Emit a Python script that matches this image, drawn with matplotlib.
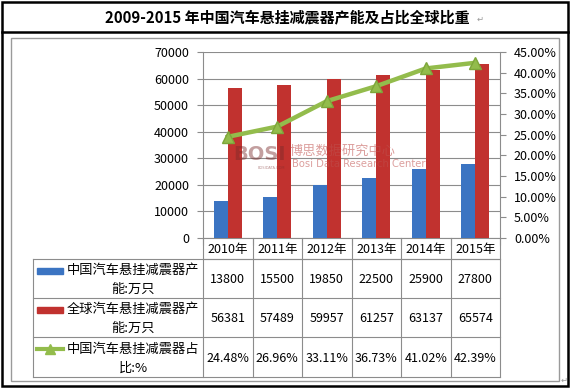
import matplotlib
matplotlib.use("Agg")
import matplotlib.pyplot as plt
from matplotlib.patches import Rectangle

plt.rcParams["font.family"] = ["Noto Sans CJK SC", "DejaVu Sans"]

TITLE = "2009-2015 年中国汽车悬挂减震器产能及占比全球比重"
YEARS = ["2010年", "2011年", "2012年", "2013年", "2014年", "2015年"]
CHINA = [13800, 15500, 19850, 22500, 25900, 27800]
GLOBAL = [56381, 57489, 59957, 61257, 63137, 65574]
SHARE = [24.48, 26.96, 33.11, 36.73, 41.02, 42.39]
ROW_LABELS = [("中国汽车悬挂减震器产", "能:万只"),
              ("全球汽车悬挂减震器产", "能:万只"),
              ("中国汽车悬挂减震器占", "比:%")]

BLUE = "#3B74C2"
RED = "#C1322F"
GREEN = "#93BC4C"
GRAY = "#8C8C8C"

W, H = 571, 389
fig = plt.figure(figsize=(W / 100, H / 100), dpi=100)


def box(x0, y0, x1, y1):
    # pixel box (top-left origin) -> figure fraction rect
    return [x0 / W, 1 - y1 / H, (x1 - x0) / W, (y1 - y0) / H]


# plot area
PX0, PX1, PY0, PY1 = 203, 500, 52, 238
ax = fig.add_axes(box(PX0, PY0, PX1, PY1))
x = list(range(len(YEARS)))
bw = 0.28
ax.bar([i - bw / 2 for i in x], CHINA, bw, color=BLUE, zorder=3)
ax.bar([i + bw / 2 for i in x], GLOBAL, bw, color=RED, zorder=3)
ax.set_xlim(-0.5, len(YEARS) - 0.5)
ax.set_ylim(0, 70000)
ax.set_yticks(range(0, 70001, 10000))
ax.set_xticks([i - 0.5 for i in range(len(YEARS) + 1)])
ax.set_xticklabels([])
ax.grid(axis="y", color=GRAY, linewidth=0.8, zorder=0)
for s in ["top", "right"]:
    ax.spines[s].set_visible(False)
for s in ["left", "bottom"]:
    ax.spines[s].set_color(GRAY)
ax.tick_params(axis="y", colors=GRAY, labelcolor="black", labelsize=9, length=4, pad=6)
ax.tick_params(axis="x", colors=GRAY, length=5, direction="out")

ax2 = ax.twinx()
ax2.plot(x, [v / 100 for v in SHARE], color=GREEN, linewidth=3.2, marker="^",
         markersize=9, markerfacecolor=GREEN, markeredgecolor="#7DA63A", zorder=5)
ax2.set_ylim(0, 0.45)
ax2.set_yticks([i * 0.05 for i in range(10)])
ax2.set_yticklabels([f"{i * 5:.2f}%" for i in range(10)])
for s in ["top", "left", "bottom"]:
    ax2.spines[s].set_visible(False)
ax2.spines["right"].set_color(GRAY)
ax2.tick_params(axis="y", colors=GRAY, labelcolor="black", labelsize=9, length=4, pad=6)

# overlay in pixel coordinates for frame, title, table
ov = fig.add_axes([0, 0, 1, 1], zorder=10)
ov.set_xlim(0, W)
ov.set_ylim(H, 0)
ov.axis("off")
ov.patch.set_alpha(0)

# outer frame
ov.add_patch(Rectangle((2, 1.5), 566, 384.5, fill=False, edgecolor="black", linewidth=1.8))
ov.plot([2, 568], [32, 32], color="black", linewidth=1.8)
ov.add_patch(Rectangle((11, 38), 548, 343, fill=False, edgecolor="#9A9A9A", linewidth=1.0))
ov.text(287, 17, TITLE, ha="center", va="center", fontsize=10.8, fontweight="bold")
ov.text(477, 19, "↵", ha="left", va="center", fontsize=6, color="#999999",
        family=["DejaVu Sans"])
ov.text(564, 380, "↵", ha="center", va="center", fontsize=6, color="#999999",
        family=["DejaVu Sans"])

# watermark
wm = "#C0504D"
ov.text(233, 154, "BOSI", ha="left", va="center", fontsize=14, fontweight="bold",
        color="#7A2A2A", alpha=0.45, family=["DejaVu Sans"])
ov.text(258, 168, "BOSIDATA.COM", ha="left", va="center", fontsize=2.6, color="#7A2A2A",
        alpha=0.5, family=["DejaVu Sans"])
ov.text(290, 151, "博思数据研究中心", ha="left", va="center", fontsize=9.5, color=wm, alpha=0.55)
ov.text(292, 164, "Bosi Data Research Center", ha="left", va="center", fontsize=7.2,
        color=wm, alpha=0.55, family=["Liberation Sans Narrow", "DejaVu Sans"])

# data table
TX0 = 33
col_w = (PX1 - PX0) / len(YEARS)
rows_y = [PY1, 259, 298, 337, 377]
ov.plot([PX0, PX1], [rows_y[1], rows_y[1]], color=GRAY, linewidth=0.8)
for yy in rows_y[1:]:
    ov.plot([TX0, PX1], [yy, yy], color=GRAY, linewidth=0.8)
ov.plot([TX0, TX0], [rows_y[1], rows_y[-1]], color=GRAY, linewidth=0.8)
for k in range(len(YEARS) + 1):
    xx = PX0 + k * col_w
    ov.plot([xx, xx], [PY1, rows_y[-1]], color=GRAY, linewidth=0.8)

for k, yr in enumerate(YEARS):
    ov.text(PX0 + (k + 0.5) * col_w, (rows_y[0] + rows_y[1]) / 2 + 0.5, yr,
            ha="center", va="center", fontsize=9)

values = [[str(v) for v in CHINA], [str(v) for v in GLOBAL], [f"{v:.2f}%" for v in SHARE]]
for r in range(3):
    y0, y1 = rows_y[r + 1], rows_y[r + 2]
    ym = (y0 + y1) / 2
    for k, val in enumerate(values[r]):
        ov.text(PX0 + (k + 0.5) * col_w, ym + 1, val, ha="center", va="center", fontsize=9)
    l1, l2 = ROW_LABELS[r]
    ov.text(133, ym - 8, l1, ha="center", va="center", fontsize=9.5)
    ov.text(133, ym + 11, l2, ha="center", va="center", fontsize=9.5)
    if r < 2:
        ov.add_patch(Rectangle((37, ym - 11), 26, 6, color=[BLUE, RED][r]))
    else:
        ov.plot([37, 63], [ym - 8, ym - 8], color=GREEN, linewidth=3)
        ov.plot([50], [ym - 8], marker="^", markersize=7, color=GREEN)

fig.savefig("out.png", dpi=100)
